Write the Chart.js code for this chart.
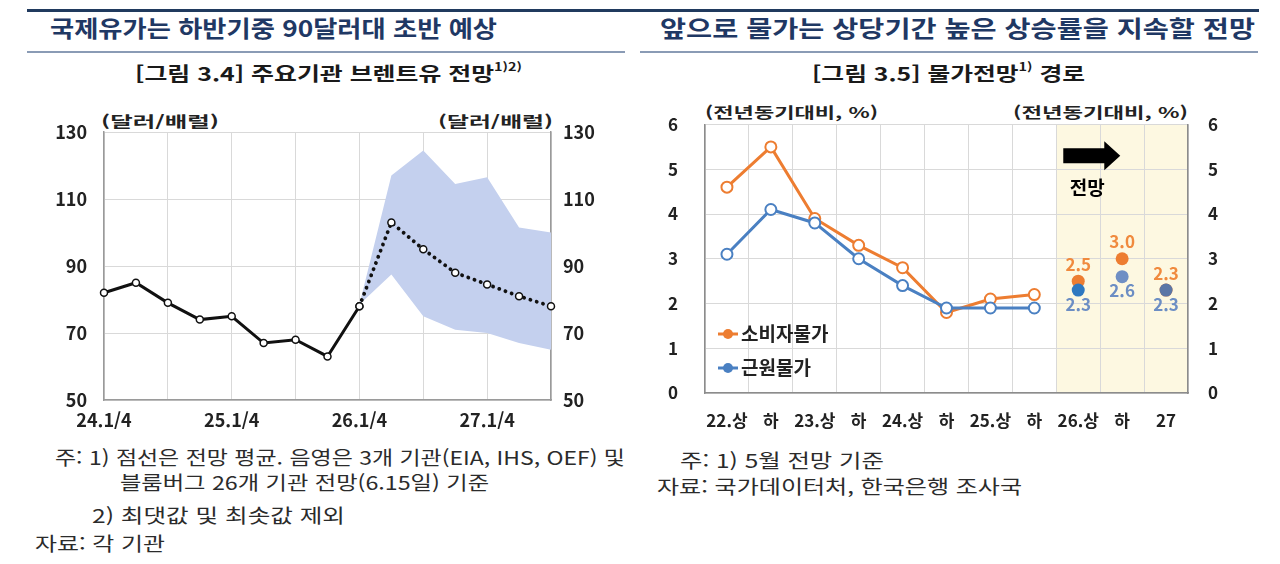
<!DOCTYPE html>
<html lang="ko"><head><meta charset="utf-8">
<script src="https://cdn.jsdelivr.net/npm/chart.js@4.4.1/dist/chart.umd.min.js"></script>
<style>
html,body{margin:0;padding:0;background:#fff}
body{width:1280px;height:564px;position:relative;overflow:hidden;font-family:"Noto Sans CJK KR","Noto Sans",sans-serif;color:#222}
.t{position:absolute;white-space:nowrap;line-height:1.2;transform-origin:0 50%}
.head{font-weight:700;color:#1f3864;font-size:23px}
.sub{font-weight:700;color:#1a1a1a;font-size:19px}
.sub sup{font-size:11px;vertical-align:top;position:relative;top:-2px}
.note{font-size:19px;color:#2b2b2b}
.unit{font-weight:700;font-size:15px;color:#222}
.bar{position:absolute}
.cv{position:absolute}
</style></head><body>
<div class="bar" style="left:27px;top:9px;width:1232px;height:3px;background:#203a5e"></div>
<div class="bar" style="left:27px;top:51px;width:598px;height:2px;background:#8a9bb5"></div>
<div class="bar" style="left:640px;top:51px;width:618px;height:2px;background:#8a9bb5"></div>

<div class="t head" data-x="50" data-y="28" data-w="447">국제유가는 하반기중 90달러대 초반 예상</div>
<div class="t head" data-x="660" data-y="28" data-w="595">앞으로 물가는 상당기간 높은 상승률을 지속할 전망</div>
<div class="t sub" data-x="135" data-y="73" data-w="387">[그림 3.4] 주요기관 브렌트유 전망<sup>1)2)</sup></div>
<div class="t sub" data-x="812" data-y="73" data-w="273">[그림 3.5] 물가전망<sup>1)</sup> 경로</div>

<div class="t unit" data-x="101" data-y="121" data-w="118">(달러/배럴)</div>
<div class="t unit" data-x="438" data-y="121" data-w="115">(달러/배럴)</div>
<div class="t unit" data-x="705" data-y="112" data-w="173">(전년동기대비, %)</div>
<div class="t unit" data-x="1013" data-y="112" data-w="175">(전년동기대비, %)</div>

<div class="t note" data-x="55" data-y="457" data-w="570">주: 1) 점선은 전망 평균. 음영은 3개 기관(EIA, IHS, OEF) 및</div>
<div class="t note" data-x="120" data-y="482" data-w="369">블룸버그 26개 기관 전망(6.15일) 기준</div>
<div class="t note" data-x="92" data-y="515" data-w="253">2) 최댓값 및 최솟값 제외</div>
<div class="t note" data-x="35" data-y="543" data-w="130">자료: 각 기관</div>
<div class="t note" data-x="680" data-y="460" data-w="204">주: 1) 5월 전망 기준</div>
<div class="t note" data-x="657" data-y="486" data-w="365">자료: 국가데이터처, 한국은행 조사국</div>

<div class="cv" style="left:40px;top:95px;width:560px;height:340px"><canvas id="c1"></canvas></div>
<div class="cv" style="left:660px;top:95px;width:580px;height:345px"><canvas id="c2"></canvas></div>

<script>
// ---------- data: Brent oil ----------
const oilLabels = ['24.1/4','24.2/4','24.3/4','24.4/4','25.1/4','25.2/4','25.3/4','25.4/4','26.1/4','26.2/4','26.3/4','26.4/4','27.1/4','27.2/4','27.3/4'];
const oilActual   = [82, 85, 79, 74, 75, 67, 68, 63, 78, null, null, null, null, null, null];
const oilForecast = [null, null, null, null, null, null, null, null, 78, 103, 95, 88, 84.5, 81, 78];
const oilBandHigh = [null, null, null, null, null, null, null, null, 78.5, 117, 124.5, 114.5, 116.5, 101.5, 100];
const oilBandLow  = [null, null, null, null, null, null, null, null, 78.5, 87.5, 75, 71, 70, 67, 65];
const oilTickMin = 50, oilTickMax = 130, oilTickStep = 20;

// ---------- data: prices ----------
const cpiLabels = ['22.상','하','23.상','하','24.상','하','25.상','하','26.상','하','27'];
const cpiActual    = [4.6, 5.5, 3.9, 3.3, 2.8, 1.8, 2.1, 2.2, null, null, null];
const coreActual   = [3.1, 4.1, 3.8, 3.0, 2.4, 1.9, 1.9, 1.9, null, null, null];
const cpiForecast  = [null, null, null, null, null, null, null, null, 2.5, 3.0, 2.3];
const coreForecast = [null, null, null, null, null, null, null, null, 2.3, 2.6, 2.3];
const cpiTickMin = 0, cpiTickMax = 6, cpiTickStep = 1;
const forecastStartIndex = 8;

// ---------- text fitting ----------
document.querySelectorAll('.t').forEach(el => {
  el.style.left = el.dataset.x + 'px';
  el.style.top = el.dataset.y + 'px';
  const nat = el.getBoundingClientRect().width;
  const s = (+el.dataset.w) / nat;
  el.style.transform = 'translateY(-50%) scaleX(' + s.toFixed(4) + ')';
});

const FAM = '"Noto Sans CJK KR","Noto Sans",sans-serif';
Chart.defaults.font.family = FAM;
Chart.defaults.animation = false;

const gridC = '#d9d9d9', axisC = '#9a9a9a';
function fixW(w) { return s => { s.width = w; s.paddingTop = 0; s.paddingBottom = 0; }; }

// ---------- chart 1 ----------
const tick1 = {family: FAM, size: 18, weight: 'bold'};
new Chart(document.getElementById('c1'), {
  type: 'line',
  data: {
    labels: oilLabels,
    datasets: [
      {label: '상단', data: oilBandHigh, borderWidth: 0, pointRadius: 0, fill: '+1', backgroundColor: '#c4d0ee', order: 5},
      {label: '하단', data: oilBandLow, borderWidth: 0, pointRadius: 0, fill: false, order: 5},
      {label: '실적', data: oilActual, borderColor: '#111', borderWidth: 3, tension: 0,
        pointRadius: 3.5, pointBackgroundColor: '#fff', pointBorderColor: '#111', pointBorderWidth: 1.5, order: 1},
      {label: '전망 평균', data: oilForecast, borderColor: '#111', borderWidth: 3.8, borderDash: [0.1, 6.5], borderCapStyle: 'round',
        pointRadius: 3.5, pointBackgroundColor: '#fff', pointBorderColor: '#111', pointBorderWidth: 1.5, order: 2}
    ]
  },
  options: {
    responsive: true, maintainAspectRatio: false,
    layout: {padding: {top: 37, left: 0, right: 0, bottom: 0}},
    plugins: {legend: {display: false}, tooltip: {enabled: false}},
    scales: {
      x: {
        offset: false,
        grid: {color: c => (c.index % 2 === 0 ? gridC : 'rgba(0,0,0,0)'), drawTicks: false},
        border: {display: true, color: axisC, width: 1.5},
        ticks: {autoSkip: false, maxRotation: 0, padding: 9, color: '#222', font: tick1,
          callback: function (v, i) { return i % 4 === 0 ? this.getLabelForValue(v) : ''; }},
        afterFit: s => { s.height = 35; }
      },
      y: {
        position: 'left', min: oilTickMin, max: oilTickMax,
        ticks: {stepSize: oilTickStep, padding: 17, color: '#222', font: tick1},
        grid: {color: gridC, drawTicks: false},
        border: {display: true, color: axisC, width: 1.5},
        afterFit: fixW(64)
      },
      y1: {
        position: 'right', min: oilTickMin, max: oilTickMax,
        ticks: {stepSize: oilTickStep, padding: 12, color: '#222', font: tick1},
        grid: {display: false, drawTicks: false},
        border: {display: true, color: axisC, width: 1.5},
        afterFit: fixW(49)
      }
    }
  }
});

// ---------- chart 2 plugins ----------
const shadePlugin = {
  id: 'shade',
  beforeDraw(chart) {
    const {ctx, chartArea: a, scales: {x}} = chart;
    const half = (x.getPixelForValue(1) - x.getPixelForValue(0)) / 2;
    const x0 = x.getPixelForValue(forecastStartIndex) - half;
    ctx.save();
    ctx.fillStyle = '#fdf8e1';
    ctx.fillRect(x0, a.top, a.right - x0, a.bottom - a.top);
    ctx.restore();
  }
};
const arrowPlugin = {
  id: 'arrow',
  afterDatasetsDraw(chart) {
    const {ctx, scales: {x, y}} = chart;
    const half = (x.getPixelForValue(1) - x.getPixelForValue(0)) / 2;
    const x0 = x.getPixelForValue(forecastStartIndex) - half;
    const yc = y.getPixelForValue(5.3);
    ctx.save();
    ctx.fillStyle = '#000';
    ctx.beginPath();
    ctx.moveTo(x0 + 7, yc - 7.5);
    ctx.lineTo(x0 + 48, yc - 7.5);
    ctx.lineTo(x0 + 48, yc - 14.5);
    ctx.lineTo(x0 + 64, yc);
    ctx.lineTo(x0 + 48, yc + 14.5);
    ctx.lineTo(x0 + 48, yc + 7.5);
    ctx.lineTo(x0 + 7, yc + 7.5);
    ctx.closePath();
    ctx.fill();
    ctx.font = 'bold 19px ' + FAM;
    ctx.textAlign = 'center';
    ctx.textBaseline = 'middle';
    ctx.fillText('전망', x0 + 31, y.getPixelForValue(4.58));
    ctx.restore();
  }
};
const labelPlugin = {
  id: 'vlabels',
  afterDatasetsDraw(chart) {
    const {ctx} = chart;
    ctx.save();
    ctx.font = 'bold 17px ' + FAM;
    ctx.textAlign = 'center';
    ctx.textBaseline = 'middle';
    chart.data.datasets.forEach((ds, di) => {
      if (!ds.valueLabel) return;
      const meta = chart.getDatasetMeta(di);
      meta.data.forEach((pt, i) => {
        const v = ds.data[i];
        if (v == null) return;
        ctx.fillStyle = ds.valueLabel.color;
        const off = ds.valueLabel.pos === 'above' ? -17 : 14;
        ctx.fillText(v.toFixed(1), pt.x, pt.y + off);
      });
    });
    ctx.restore();
  }
};
const legendPlugin = {
  id: 'inlegend',
  afterDatasetsDraw(chart) {
    const {ctx, chartArea: a} = chart;
    const items = chart.data.datasets.filter(d => d.inLegend);
    ctx.save();
    items.forEach((d, k) => {
      const yy = a.bottom - 59 + k * 34;
      const xx = a.left + 13;
      ctx.strokeStyle = d.borderColor;
      ctx.lineWidth = 3;
      ctx.beginPath(); ctx.moveTo(xx, yy); ctx.lineTo(xx + 20, yy); ctx.stroke();
      ctx.fillStyle = d.borderColor;
      ctx.beginPath(); ctx.arc(xx + 10, yy, 5, 0, Math.PI * 2); ctx.fill();
      ctx.fillStyle = '#222';
      ctx.font = 'bold 19px ' + FAM;
      ctx.textAlign = 'left'; ctx.textBaseline = 'middle';
      ctx.fillText(d.label, xx + 23, yy);
    });
    ctx.restore();
  }
};

// ---------- chart 2 ----------
const ORANGE = '#ED7D31', BLUE = '#4A80C2';
const tick2 = {family: FAM, size: 17, weight: 'bold'};
new Chart(document.getElementById('c2'), {
  type: 'line',
  data: {
    labels: cpiLabels,
    datasets: [
      {label: '소비자물가', inLegend: true, data: cpiActual, borderColor: ORANGE, borderWidth: 3,
        pointRadius: 5.5, pointBackgroundColor: '#fff', pointBorderColor: ORANGE, pointBorderWidth: 2, order: 4},
      {label: '근원물가', inLegend: true, data: coreActual, borderColor: BLUE, borderWidth: 3,
        pointRadius: 5.5, pointBackgroundColor: '#fff', pointBorderColor: BLUE, pointBorderWidth: 2, order: 3},
      {label: '소비자물가 전망', data: cpiForecast, showLine: false, pointRadius: 6.5, pointBorderWidth: 0,
        pointBackgroundColor: ORANGE, borderColor: ORANGE, valueLabel: {pos: 'above', color: '#F08A3E'}, order: 2},
      {label: '근원물가 전망', data: coreForecast, showLine: false, pointRadius: 6.5, pointBorderWidth: 0,
        pointBackgroundColor: ['#2E78C0', '#2E78C0', '#2E78C0', '#2E78C0', '#2E78C0', '#2E78C0', '#2E78C0', '#2E78C0', '#2E78C0', '#6F8FC4', '#5B76A6'],
        borderColor: BLUE, valueLabel: {pos: 'below', color: '#6C8EC4'}, order: 1}
    ]
  },
  options: {
    responsive: true, maintainAspectRatio: false,
    layout: {padding: {top: 29.5, left: 0, right: 0, bottom: 0}},
    plugins: {legend: {display: false}, tooltip: {enabled: false}},
    scales: {
      x: {
        offset: true,
        grid: {offset: true, color: gridC, drawTicks: false},
        border: {display: true, color: '#8c8c8c', width: 1.5},
        ticks: {autoSkip: false, maxRotation: 0, padding: 17, color: '#222', font: tick2},
        afterFit: s => { s.height = 47; }
      },
      y: {
        position: 'left', min: cpiTickMin, max: cpiTickMax,
        ticks: {stepSize: cpiTickStep, padding: 27, color: '#222', font: tick2},
        grid: {color: gridC, drawTicks: false},
        border: {display: true, color: '#8c8c8c', width: 1.5},
        afterFit: fixW(45)
      },
      y1: {
        position: 'right', min: cpiTickMin, max: cpiTickMax,
        ticks: {stepSize: cpiTickStep, padding: 20, color: '#222', font: tick2},
        grid: {display: false, drawTicks: false},
        border: {display: true, color: '#8c8c8c', width: 1.5},
        afterFit: fixW(52)
      }
    }
  },
  plugins: [shadePlugin, arrowPlugin, labelPlugin, legendPlugin]
});
</script>
</body></html>
